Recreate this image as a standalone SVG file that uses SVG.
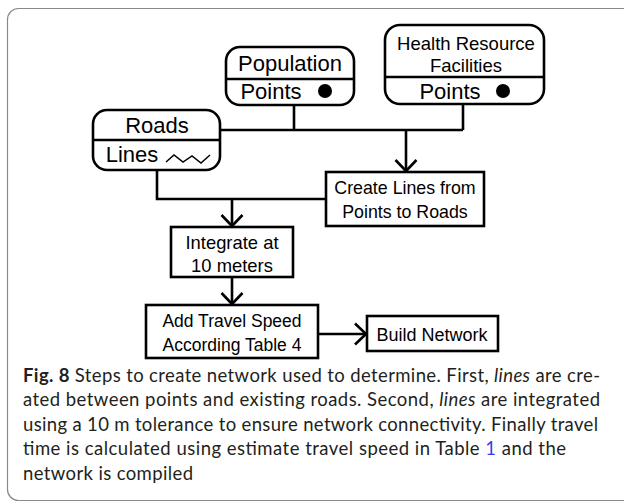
<svg xmlns="http://www.w3.org/2000/svg" width="624" height="502" viewBox="0 0 624 502">
<style>
.box{fill:#fff;stroke:#000;stroke-width:2.6}
.ln{fill:none;stroke:#000;stroke-width:2.6}
.t{font-family:"Liberation Sans",Arial,sans-serif;fill:#000;text-anchor:middle}
.cap{font-family:Lato,"Open Sans",sans-serif;font-size:18.5px;fill:#231f20}
</style>
<defs>
<marker id="arr" viewBox="0 0 24 24" refX="12" refY="12" markerWidth="24" markerHeight="24" markerUnits="userSpaceOnUse" orient="auto">
<path d="M1,1.5 L12,12 L1,22.5" fill="none" stroke="#000" stroke-width="2.6"/>
</marker>
</defs>
<rect x="7.5" y="8.5" width="640" height="492" rx="11" fill="#fff" stroke="#8a8a8a" stroke-width="1.2"/>
<g id="connectors">
<path class="ln" d="M220,130 H463 M294,105 V130 M463,104 V130"/>
<path class="ln" d="M406,130 V171" marker-end="url(#arr)"/>
<path class="ln" d="M157,170 V199 H326"/>
<path class="ln" d="M232,199 V226" marker-end="url(#arr)"/>
<path class="ln" d="M232,277 V304" marker-end="url(#arr)"/>
<path class="ln" d="M318,334 H366" marker-end="url(#arr)"/>
</g>
<g id="population">
<rect class="box" x="226" y="47" width="128" height="58" rx="14"/>
<line class="ln" x1="226" y1="79" x2="354" y2="79"/>
<text class="t" x="290" y="71" font-size="22">Population</text>
<text class="t" x="271" y="99" font-size="22">Points</text>
<circle cx="325" cy="91" r="7"/>
</g>
<g id="health">
<rect class="box" x="385" y="25" width="159" height="79" rx="15"/>
<line class="ln" x1="385" y1="77" x2="544" y2="77"/>
<text class="t" x="466" y="50" font-size="18.5">Health Resource</text>
<text class="t" x="466" y="72" font-size="18.5">Facilities</text>
<text class="t" x="450" y="99" font-size="22">Points</text>
<circle cx="503" cy="91" r="7"/>
</g>
<g id="roads">
<rect class="box" x="93" y="110" width="127" height="60" rx="14"/>
<line class="ln" x1="93" y1="140" x2="220" y2="140"/>
<text class="t" x="157" y="133" font-size="22">Roads</text>
<text class="t" x="132" y="162" font-size="22">Lines</text>
<path d="M166,162 L174,155 L183,162 L192,156 L201,163 L210,155" fill="none" stroke="#000" stroke-width="1.5"/>
</g>
<g id="create">
<rect class="box" x="326" y="172" width="158" height="54"/>
<text class="t" x="405" y="194" font-size="17.8">Create Lines from</text>
<text class="t" x="405" y="218" font-size="17.8">Points to Roads</text>
</g>
<g id="integrate">
<rect class="box" x="171" y="227" width="122" height="50"/>
<text class="t" x="232" y="249" font-size="18.4">Integrate at</text>
<text class="t" x="232" y="272" font-size="18.4">10 meters</text>
</g>
<g id="travel">
<rect class="box" x="146" y="305" width="172" height="53"/>
<text class="t" x="232" y="327" font-size="17.5">Add Travel Speed</text>
<text class="t" x="232" y="351" font-size="17.5">According Table 4</text>
</g>
<g id="build">
<rect class="box" x="367" y="316" width="131" height="35"/>
<text class="t" x="432" y="341" font-size="18">Build Network</text>
</g>
<g id="caption" class="cap">
<text x="23" y="382" textLength="577" lengthAdjust="spacing"><tspan font-weight="bold">Fig. 8</tspan>  Steps to create network used to determine. First, <tspan font-style="italic">lines</tspan> are cre-</text>
<text x="23" y="406" textLength="577" lengthAdjust="spacing">ated between points and existing roads. Second, <tspan font-style="italic">lines</tspan> are integrated</text>
<text x="23" y="431" textLength="575" lengthAdjust="spacing">using a 10 m tolerance to ensure network connectivity. Finally travel</text>
<text x="23" y="455" textLength="543" lengthAdjust="spacing">time is calculated using estimate travel speed in Table <tspan fill="#3b3bf0">1</tspan> and the</text>
<text x="23" y="480" textLength="170" lengthAdjust="spacing">network is compiled</text>
</g>
</svg>
